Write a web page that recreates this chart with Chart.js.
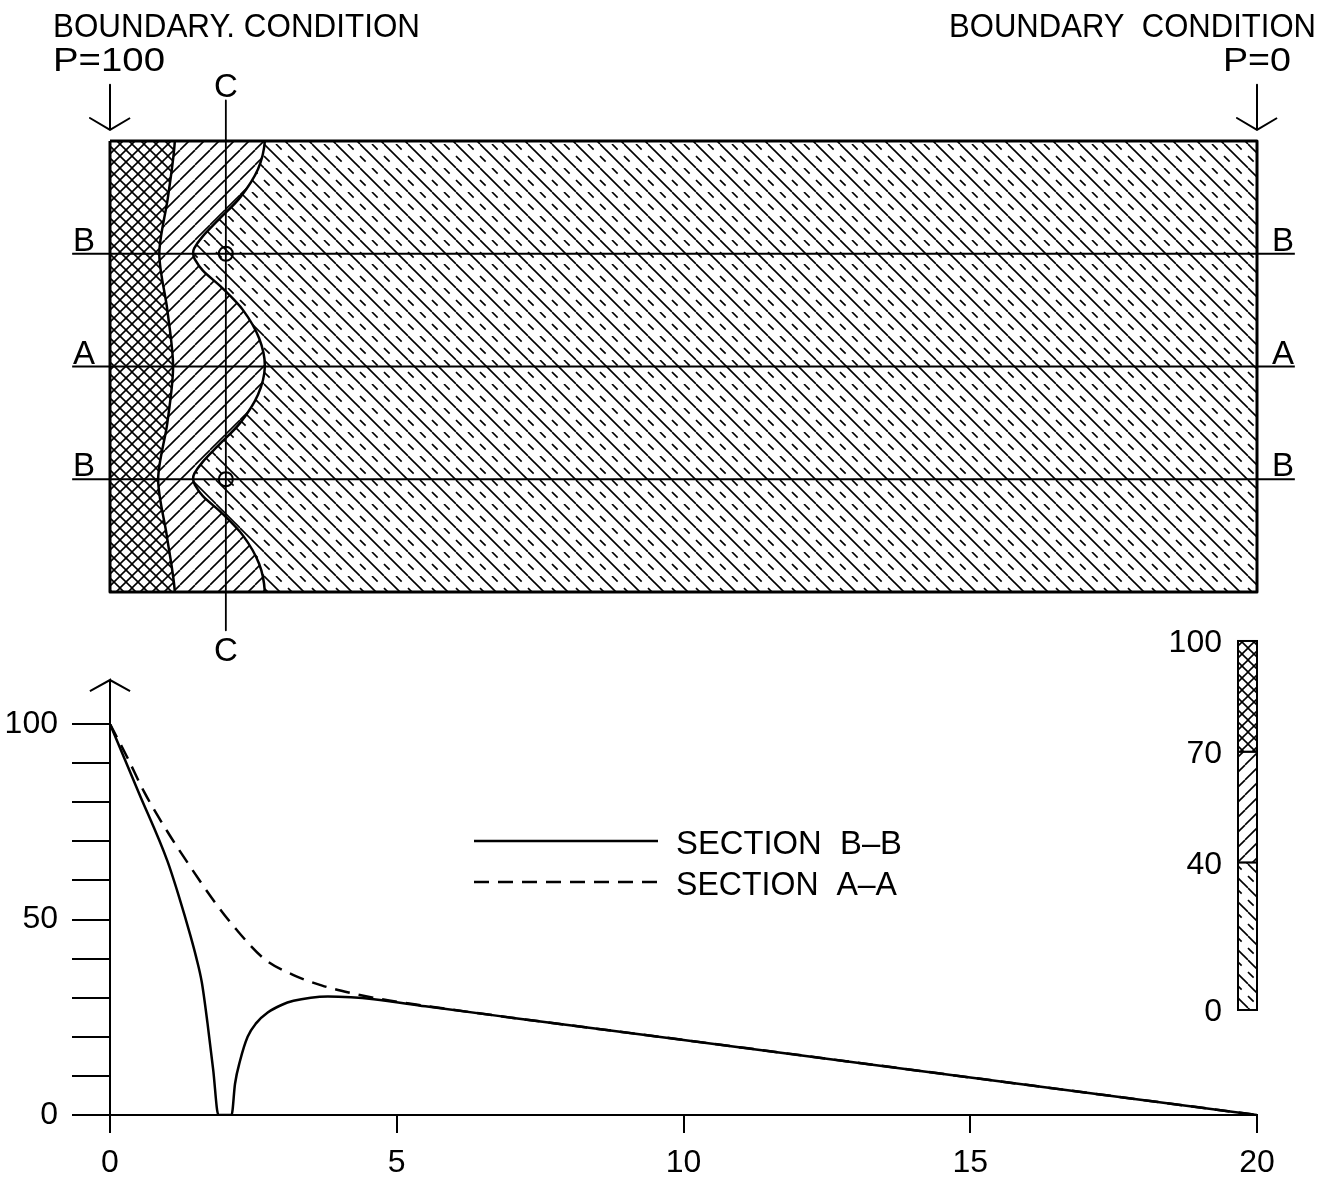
<!DOCTYPE html>
<html>
<head>
<meta charset="utf-8">
<script src="https://cdn.jsdelivr.net/npm/chart.js@4.4.1/dist/chart.umd.min.js"></script>
<style>
  html, body { margin: 0; padding: 0; background: #fff; }
  #wrap { position: relative; width: 1335px; height: 1178px; }
  #wrap canvas { position: absolute; left: 0; top: 0; }
</style>
</head>
<body>
<div id="wrap">
  <canvas id="profile" width="1335" height="1178"></canvas>
  <canvas id="field" width="1335" height="1178"></canvas>
</div>
<script>
// Pressure profiles along the sections (distance 0..20)
const distanceB = [0, 0.5, 1.0, 1.2, 1.4, 1.5, 1.6, 1.7, 1.8, 1.89, 2.12, 2.18, 2.27, 2.4, 2.55, 2.75, 3.0, 3.2, 3.5, 3.8, 4.2, 4.6, 5.5, 7, 10, 15, 20];
const pressureB = [100, 82.5, 65, 56, 46, 40.5, 34, 23.5, 11.5, 0, 0, 8, 14, 20, 23.5, 26.2, 28.2, 29.2, 30.0, 30.3, 30.1, 29.6, 27.8, 24.9, 19.2, 9.6, 0];
const distanceA = [0, 0.3, 0.6, 1.0, 1.4, 1.8, 2.2, 2.7, 3.2, 3.7, 4.2, 4.7, 5.5, 7, 10, 15, 20];
const pressureA = [100, 91.5, 82.5, 72.5, 63.5, 55, 47.5, 39.8, 35.8, 33.1, 31.2, 29.7, 27.9, 24.9, 19.2, 9.6, 0];
const yLabels = [0, 50, 100];

// Contours of the pressure field (row 0 = top edge, 4 = bottom edge)
const rows70 = [0, 0.5, 1, 1.5, 2, 2.5, 3, 3.5, 4];
const contour70 = [1.13, 1.01, 0.86, 1.0, 1.10, 1.0, 0.84, 0.99, 1.13];
const rows40 = [0, 0.25, 0.5, 0.7, 0.85, 0.95, 1, 1.05, 1.15, 1.3, 1.5, 1.75, 2, 2.25, 2.5, 2.7, 2.85, 2.95, 3, 3.05, 3.15, 3.3, 3.5, 3.75, 4];
const contour40 = [2.70, 2.58, 2.27, 1.89, 1.61, 1.47, 1.45, 1.48, 1.62, 1.95, 2.32, 2.60, 2.70, 2.58, 2.27, 1.89, 1.61, 1.47, 1.45, 1.48, 1.62, 1.95, 2.32, 2.60, 2.70];
const sectionB = [1, 3];
const sectionA = [2];
const sectionC = 2.02;
const levels = [0, 40, 70, 100];

const FONT = '"Liberation Sans", Arial, sans-serif';
Chart.defaults.font.family = FONT;
Chart.defaults.color = '#000';

// hatch patterns: 'cross' (70-100), 'fwd' (40-70), 'back' (0-40, solid + dashed)
function hatch(ctx, kind) {
  const s = kind === 'cross' ? 12 : kind === 'fwd' ? 15 : 24;
  const c = document.createElement('canvas');
  c.width = s; c.height = s;
  const g = c.getContext('2d');
  g.fillStyle = '#fff';
  g.fillRect(0, 0, s, s);
  g.strokeStyle = '#000';
  g.lineWidth = 1.6;
  const back = k => { g.beginPath(); g.moveTo(k, 0); g.lineTo(k + s, s); g.stroke(); };
  const fwd = k => { g.beginPath(); g.moveTo(k, s); g.lineTo(k + s, 0); g.stroke(); };
  if (kind === 'cross' || kind === 'fwd') [-s, 0, s].forEach(fwd);
  if (kind === 'cross') [-s, 0, s].forEach(back);
  if (kind === 'back') {
    [-s, 0, s].forEach(back);
    const period = s * Math.SQRT2 / 2;
    g.setLineDash([8, period - 8]);
    [-s / 2, s / 2].forEach(back);
  }
  return ctx.createPattern(c, 'repeat');
}

function put(ctx, s, x, y, size, align, width) {
  ctx.save();
  ctx.font = size + 'px ' + FONT;
  ctx.fillStyle = '#000';
  ctx.textBaseline = 'alphabetic';
  const w = ctx.measureText(s).width;
  const k = width ? width / w : 1;
  const left = align === 'right' ? x - w * k : align === 'center' ? x - w * k / 2 : x;
  ctx.translate(left, y);
  ctx.scale(k, 1);
  ctx.fillText(s, 0, 0);
  ctx.restore();
}

// closed shape: region left of a contour (extension points lie outside the plot area)
function band(rows, xs) {
  const pts = rows.map((r, i) => ({x: xs[i], y: r}));
  const first = pts[0], last = pts[pts.length - 1];
  return [{x: first.x, y: -0.6}, ...pts, {x: last.x, y: 4.6}, {x: -1, y: 4.6}, {x: -1, y: -0.6}];
}
function arrow(x0, y0, y1, hw, hh) {
  return [{x: x0, y: y0}, {x: x0, y: y1}, {x: x0 - hw, y: y1 - hh}, {x: x0, y: y1}, {x: x0 + hw, y: y1 - hh}];
}

// ---------- top: field diagram ----------
const fieldCtx = document.getElementById('field').getContext('2d');
const lineSet = (data, extra) => Object.assign({
  data, borderColor: '#000', borderWidth: 2, pointRadius: 0, fill: false, tension: 0, clip: false, order: 5
}, extra || {});

const fieldLabels = {
  id: 'fieldLabels',
  afterDraw(chart) {
    const {ctx, chartArea: a, scales: {x, y}} = chart;
    put(ctx, 'BOUNDARY. CONDITION', 53, 37, 33, 'left', 367);
    put(ctx, 'P=100', 53, 71, 33, 'left', 112);
    put(ctx, 'BOUNDARY  CONDITION', 1316, 37, 33, 'right', 367);
    put(ctx, 'P=0', 1291, 71, 33, 'right', 68);
    sectionB.forEach(r => {
      put(ctx, 'B', a.left - 26, y.getPixelForValue(r) - 3, 33, 'center');
      put(ctx, 'B', a.right + 26, y.getPixelForValue(r) - 3, 33, 'center');
    });
    sectionA.forEach(r => {
      put(ctx, 'A', a.left - 26, y.getPixelForValue(r) - 3, 33, 'center');
      put(ctx, 'A', a.right + 26, y.getPixelForValue(r) - 3, 33, 'center');
    });
    put(ctx, 'C', x.getPixelForValue(sectionC), 97, 33, 'center');
    put(ctx, 'C', x.getPixelForValue(sectionC), 661, 33, 'center');
  }
};

new Chart(fieldCtx, {
  type: 'line',
  data: {
    datasets: [
      {label: 'P 0-40', data: [{x: 0, y: 4}, {x: 0, y: 0}, {x: 20, y: 0}, {x: 20, y: 4}],
       fill: 'shape', backgroundColor: hatch(fieldCtx, 'back'), borderColor: 'rgba(0,0,0,0)', borderWidth: 0,
       pointRadius: 0, tension: 0, order: 10},
      {label: 'P 40-70', data: band(rows40, contour40),
       fill: 'shape', backgroundColor: hatch(fieldCtx, 'fwd'), borderColor: '#000', borderWidth: 2.5,
       pointRadius: 0, tension: 0.3, capBezierPoints: false, order: 9},
      {label: 'P 70-100', data: band(rows70, contour70),
       fill: 'shape', backgroundColor: hatch(fieldCtx, 'cross'), borderColor: '#000', borderWidth: 2.5,
       pointRadius: 0, tension: 0.3, capBezierPoints: false, order: 8},
      ...sectionB.concat(sectionA).map(r => lineSet([{x: -0.66, y: r}, {x: 20.66, y: r}])),
      lineSet([{x: sectionC, y: -0.36}, {x: sectionC, y: 4.34}], {borderWidth: 1.8}),
      lineSet(sectionB.map(r => ({x: sectionC, y: r})), {showLine: false, pointRadius: 7, pointBorderWidth: 2,
        pointBorderColor: '#000', pointBackgroundColor: 'rgba(0,0,0,0)', order: 4}),
      lineSet([{x: 0, y: 0}, {x: 20, y: 0}, {x: 20, y: 4}, {x: 0, y: 4}, {x: 0, y: 0}], {borderWidth: 3, order: 1}),
      lineSet(arrow(0, -0.5, -0.098, 0.35, 0.106), {order: 1}),
      lineSet(arrow(20, -0.5, -0.098, 0.35, 0.106), {order: 1})
    ]
  },
  options: {
    responsive: false,
    animation: false,
    devicePixelRatio: 1,
    events: [],
    layout: {padding: {left: 110, right: 78, top: 141, bottom: 586}},
    elements: {line: {borderJoinStyle: 'round'}},
    scales: {
      x: {type: 'linear', min: 0, max: 20, display: false},
      y: {type: 'linear', min: 0, max: 4, reverse: true, display: false}
    },
    plugins: {legend: {display: false}, tooltip: {enabled: false}}
  },
  plugins: [fieldLabels]
});

// ---------- bottom: pressure along sections ----------
const profCtx = document.getElementById('profile').getContext('2d');
const barPatterns = [hatch(profCtx, 'back'), hatch(profCtx, 'fwd'), hatch(profCtx, 'cross')];

const profileLegend = {
  id: 'profileLegend',
  afterDraw(chart) {
    const {ctx, chartArea: a, scales: {yc}} = chart;
    ctx.save();
    ctx.strokeStyle = '#000';
    ctx.lineWidth = 2.5;
    ctx.beginPath(); ctx.moveTo(474, 841); ctx.lineTo(658, 841); ctx.stroke();
    ctx.setLineDash([15, 9]);
    ctx.beginPath(); ctx.moveTo(474, 882); ctx.lineTo(658, 882); ctx.stroke();
    ctx.restore();
    put(ctx, 'SECTION  B\u2013B', 676, 854, 33, 'left', 226);
    put(ctx, 'SECTION  A\u2013A', 676, 895, 33, 'left', 221);

    // colour key
    const w = 19;
    ctx.save();
    ctx.strokeStyle = '#000';
    ctx.lineWidth = 2;
    for (let i = 0; i < levels.length - 1; i++) {
      const y0 = yc.getPixelForValue(levels[i]);
      const y1 = yc.getPixelForValue(levels[i + 1]);
      ctx.fillStyle = barPatterns[i];
      ctx.fillRect(a.right - w, y1, w, y0 - y1);
      ctx.strokeRect(a.right - w, y1, w, y0 - y1);
    }
    ctx.restore();
    levels.forEach(v => put(ctx, String(v), a.right - 35, yc.getPixelForValue(v) + 11.5, 32, 'right'));
  }
};

new Chart(profCtx, {
  type: 'line',
  data: {
    datasets: [
      {label: 'SECTION B-B', data: distanceB.map((d, i) => ({x: d, y: pressureB[i]})),
       borderColor: '#000', borderWidth: 2.5, pointRadius: 0, fill: false, cubicInterpolationMode: 'monotone'},
      {label: 'SECTION A-A', data: distanceA.map((d, i) => ({x: d, y: pressureA[i]})),
       borderColor: '#000', borderWidth: 2.5, borderDash: [15, 9], pointRadius: 0, fill: false,
       cubicInterpolationMode: 'monotone'},
      {label: 'axis', data: arrow(0, 100, 111.25, 0.35, 2.85), borderColor: '#000', borderWidth: 2,
       pointRadius: 0, fill: false, tension: 0, clip: false}
    ]
  },
  options: {
    responsive: false,
    animation: false,
    devicePixelRatio: 1,
    events: [],
    layout: {padding: {left: 0, right: 78, top: 724, bottom: 0}},
    scales: {
      x: {
        type: 'linear', min: 0, max: 20,
        afterFit: s => { s.height = 63; },
        ticks: {stepSize: 5, padding: 11, font: {size: 32}, color: '#000', maxRotation: 0, autoSkip: false},
        grid: {drawOnChartArea: false, tickLength: 18, color: '#000', lineWidth: 2},
        border: {color: '#000', width: 2}
      },
      y: {
        type: 'linear', min: 0, max: 100,
        afterFit: s => { s.width = 110; },
        ticks: {stepSize: 10, padding: 14, font: {size: 32}, color: '#000', autoSkip: false,
                callback: v => yLabels.includes(v) ? String(v) : ''},
        grid: {drawOnChartArea: false, tickLength: 38, color: '#000', lineWidth: 2},
        border: {color: '#000', width: 2}
      },
      yc: {type: 'linear', axis: 'y', min: -28.46, max: 77.5, display: false}
    },
    plugins: {legend: {display: false}, tooltip: {enabled: false}}
  },
  plugins: [profileLegend]
});
</script>
</body>
</html>
